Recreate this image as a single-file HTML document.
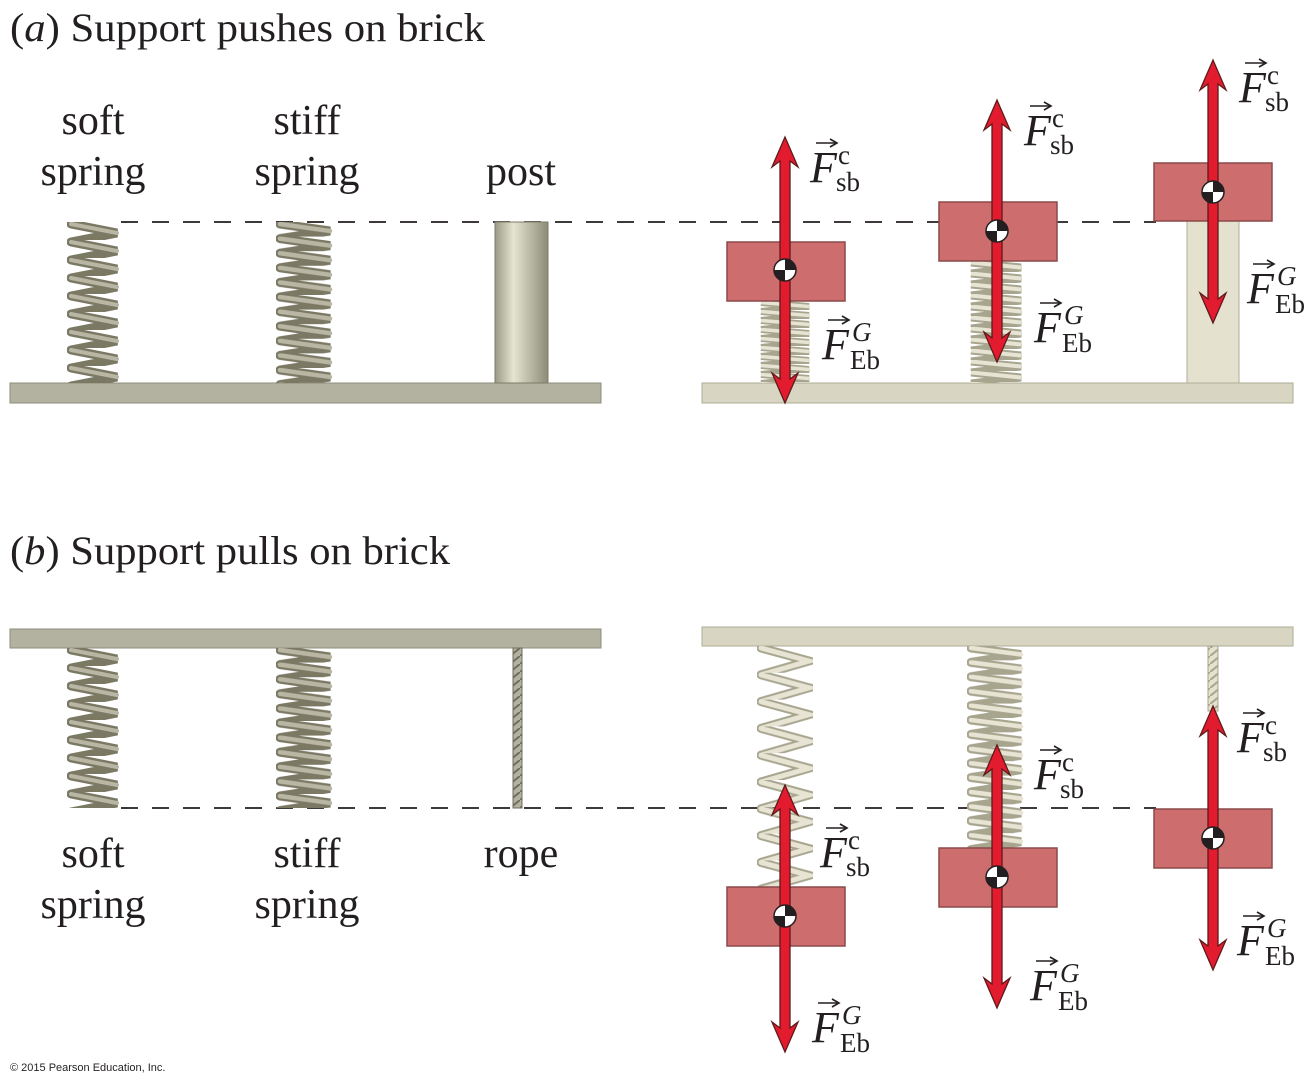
<!DOCTYPE html>
<html><head><meta charset="utf-8"><style>
html,body{margin:0;padding:0;background:#fff;}
svg{display:block;}
text{font-family:"Liberation Serif",serif;fill:#231f20;}
.lb{font-size:42px;}
.F{font-size:44px;font-style:italic;}
.s{font-size:27px;}
.sg{font-size:27px;font-style:italic;}
</style></head><body>
<svg width="1313" height="1088" viewBox="0 0 1313 1088" xmlns="http://www.w3.org/2000/svg">
<defs>
<linearGradient id="post" x1="0" x2="1">
<stop offset="0" stop-color="#9a9a86"/><stop offset="0.35" stop-color="#e4e4d2"/><stop offset="1" stop-color="#8c8b77"/>
</linearGradient>
<pattern id="pS" patternUnits="userSpaceOnUse" x="67" y="222" width="54" height="18"><path d="M4,2 L50,11 L4,20" fill="none" stroke="#7b7964" stroke-width="9" stroke-linecap="round"/><path d="M4,2 L50,11" fill="none" stroke="#b9b7a4" stroke-width="4" stroke-linecap="round"/></pattern>
<pattern id="pT" patternUnits="userSpaceOnUse" x="276" y="222" width="58" height="14.6"><path d="M4,2 L54,9 L4,16.6" fill="none" stroke="#7b7964" stroke-width="9" stroke-linecap="round"/><path d="M4,2 L54,9" fill="none" stroke="#b9b7a4" stroke-width="4.5" stroke-linecap="round"/></pattern>
<pattern id="pS2" patternUnits="userSpaceOnUse" x="67" y="648" width="54" height="18"><path d="M4,2 L50,11 L4,20" fill="none" stroke="#7b7964" stroke-width="9" stroke-linecap="round"/><path d="M4,2 L50,11" fill="none" stroke="#b9b7a4" stroke-width="4" stroke-linecap="round"/></pattern>
<pattern id="pT2" patternUnits="userSpaceOnUse" x="276" y="648" width="58" height="14.6"><path d="M4,2 L54,9 L4,16.6" fill="none" stroke="#7b7964" stroke-width="9" stroke-linecap="round"/><path d="M4,2 L54,9" fill="none" stroke="#b9b7a4" stroke-width="4.5" stroke-linecap="round"/></pattern>
<pattern id="r1" patternUnits="userSpaceOnUse" x="757" y="301" width="56" height="9"><path d="M4,1.5 L52,5.5 L4,10.5" fill="none" stroke="#a8a58f" stroke-width="7"/><path d="M4,1.5 L52,5.5" fill="none" stroke="#e7e4d3" stroke-width="3.5"/></pattern>
<pattern id="r2" patternUnits="userSpaceOnUse" x="967" y="261" width="58" height="11"><path d="M4,1.5 L54,6.5 L4,12.5" fill="none" stroke="#a8a58f" stroke-width="8"/><path d="M4,1.5 L54,6.5" fill="none" stroke="#e7e4d3" stroke-width="4"/></pattern>
<pattern id="r3" patternUnits="userSpaceOnUse" x="757" y="646" width="56" height="26.8"><path d="M4,2 L52,15 L4,28.8" fill="none" stroke="#a8a58f" stroke-width="9" stroke-linecap="round"/><path d="M4,2 L52,15 L4,28.8" fill="none" stroke="#e7e4d3" stroke-width="5" stroke-linecap="round"/></pattern>
<pattern id="r4" patternUnits="userSpaceOnUse" x="967" y="646" width="58" height="14.4"><path d="M4,2 L54,8.5 L4,16.4" fill="none" stroke="#a8a58f" stroke-width="9" stroke-linecap="round"/><path d="M4,2 L54,8.5" fill="none" stroke="#e7e4d3" stroke-width="4.5" stroke-linecap="round"/></pattern>
<pattern id="rope" patternUnits="userSpaceOnUse" width="10" height="8"><path d="M0,8 L10,0" stroke="#6f6d5c" stroke-width="2"/></pattern>
<pattern id="rope2" patternUnits="userSpaceOnUse" width="10" height="8"><path d="M0,8 L10,0" stroke="#a8a58f" stroke-width="2"/></pattern>
<g id="dot"><circle r="11" fill="#fff" stroke="#231f20" stroke-width="1.5"/><path d="M0,0 L0,-11 A11,11 0 0 1 11,0 Z M0,0 L0,11 A11,11 0 0 1 -11,0 Z" fill="#231f20"/></g>
<g id="vec"><line x1="0" y1="0" x2="20" y2="0" stroke="#231f20" stroke-width="1.6"/><path d="M14,-4 L21,0 L14,4" fill="none" stroke="#231f20" stroke-width="1.6"/></g>
</defs>

<text x="10" y="41" style="font-size:40px" textLength="475" lengthAdjust="spacingAndGlyphs">(<tspan font-style="italic">a</tspan>) Support pushes on brick</text>
<text x="10" y="564" style="font-size:40px" textLength="440" lengthAdjust="spacingAndGlyphs">(<tspan font-style="italic">b</tspan>) Support pulls on brick</text>

<g class="lb" text-anchor="middle">
<text x="93" y="134">soft</text><text x="93" y="185">spring</text>
<text x="307" y="134">stiff</text><text x="307" y="185">spring</text>
<text x="521" y="185">post</text>
<text x="93" y="867">soft</text><text x="93" y="918">spring</text>
<text x="307" y="867">stiff</text><text x="307" y="918">spring</text>
<text x="521" y="867">rope</text>
</g>

<line x1="121" y1="222" x2="1156" y2="222" stroke="#231f20" stroke-width="1.8" stroke-dasharray="17,14"/>
<line x1="121" y1="808" x2="1156" y2="808" stroke="#231f20" stroke-width="1.8" stroke-dasharray="17,14"/>

<rect x="10" y="383" width="591" height="20" fill="#b3b2a1" stroke="#8f8e7c" stroke-width="1"/>
<rect x="67" y="222" width="54" height="161" fill="url(#pS)"/>
<rect x="276" y="222" width="58" height="161" fill="url(#pT)"/>
<rect x="495" y="222" width="53" height="161" fill="url(#post)" stroke="#7d7c69" stroke-width="1"/>

<rect x="702" y="383" width="591" height="20" fill="#d8d6c2" stroke="#aeac96" stroke-width="1"/>
<rect x="757" y="301" width="56" height="82" fill="url(#r1)"/>
<rect x="967" y="261" width="58" height="122" fill="url(#r2)"/>
<rect x="1187" y="221" width="52" height="162" fill="#e4e2cf" stroke="#b0ae98" stroke-width="1"/>
<rect x="727" y="242" width="118" height="59" fill="#cd6d6d" stroke="#8c4a4a" stroke-width="1.5"/>
<rect x="939" y="202" width="118" height="59" fill="#cd6d6d" stroke="#8c4a4a" stroke-width="1.5"/>
<rect x="1154" y="163" width="118" height="58" fill="#cd6d6d" stroke="#8c4a4a" stroke-width="1.5"/>

<rect x="10" y="629" width="591" height="19" fill="#b3b2a1" stroke="#8f8e7c" stroke-width="1"/>
<rect x="67" y="648" width="54" height="160" fill="url(#pS2)"/>
<rect x="276" y="648" width="58" height="160" fill="url(#pT2)"/>
<rect x="513" y="648" width="9" height="160" fill="#b3b2a1"/>
<rect x="513" y="648" width="9" height="160" fill="url(#rope)" stroke="#6f6d5c" stroke-width="1"/>

<rect x="702" y="627" width="591" height="19" fill="#d8d6c2" stroke="#aeac96" stroke-width="1"/>
<rect x="757" y="646" width="56" height="241" fill="url(#r3)"/>
<rect x="967" y="646" width="58" height="202" fill="url(#r4)"/>
<rect x="1208" y="646" width="10" height="65" fill="#e4e2cf"/>
<rect x="1208" y="646" width="10" height="65" fill="url(#rope2)" stroke="#a8a58f" stroke-width="1"/>
<rect x="727" y="887" width="118" height="59" fill="#cd6d6d" stroke="#8c4a4a" stroke-width="1.5"/>
<rect x="939" y="848" width="118" height="59" fill="#cd6d6d" stroke="#8c4a4a" stroke-width="1.5"/>
<rect x="1154" y="809" width="118" height="59" fill="#cd6d6d" stroke="#8c4a4a" stroke-width="1.5"/>

<g fill="#e31b2f" stroke="#5e1a1a" stroke-width="1.3">
<polygon points="785,137 798,167 790,161 790,379 798,373 785,403 772,373 780,379 780,161 772,167"/>
<polygon points="997,100 1010,130 1002,124 1002,338 1010,332 997,362 984,332 992,338 992,124 984,130"/>
<polygon points="1213,60 1226,90 1218,84 1218,299 1226,293 1213,323 1200,293 1208,299 1208,84 1200,90"/>
<polygon points="785,785 798,815 790,809 790,1028 798,1022 785,1052 772,1022 780,1028 780,809 772,815"/>
<polygon points="997,745 1010,775 1002,769 1002,984 1010,978 997,1008 984,978 992,984 992,769 984,775"/>
<polygon points="1213,706 1226,736 1218,730 1218,946 1226,940 1213,970 1200,940 1208,946 1208,730 1200,736"/>
</g>
<use href="#dot" x="785" y="270"/><use href="#dot" x="997" y="231"/><use href="#dot" x="1213" y="192"/>
<use href="#dot" x="785" y="916"/><use href="#dot" x="997" y="877"/><use href="#dot" x="1213" y="838"/>

<g>
<text x="810" y="182" class="F">F</text><use href="#vec" x="816" y="143"/><text x="838" y="164" class="s">c</text><text x="836" y="191" class="s">sb</text>
<text x="822" y="359" class="F">F</text><use href="#vec" x="828" y="320"/><text x="852" y="341" class="sg">G</text><text x="850" y="369" class="s">Eb</text>
<text x="1024" y="145" class="F">F</text><use href="#vec" x="1030" y="106"/><text x="1052" y="127" class="s">c</text><text x="1050" y="154" class="s">sb</text>
<text x="1034" y="342" class="F">F</text><use href="#vec" x="1040" y="303"/><text x="1064" y="324" class="sg">G</text><text x="1062" y="352" class="s">Eb</text>
<text x="1239" y="102" class="F">F</text><use href="#vec" x="1245" y="63"/><text x="1267" y="84" class="s">c</text><text x="1265" y="111" class="s">sb</text>
<text x="1247" y="303" class="F">F</text><use href="#vec" x="1253" y="264"/><text x="1277" y="285" class="sg">G</text><text x="1275" y="313" class="s">Eb</text>
<text x="820" y="867" class="F">F</text><use href="#vec" x="826" y="828"/><text x="848" y="849" class="s">c</text><text x="846" y="876" class="s">sb</text>
<text x="812" y="1042" class="F">F</text><use href="#vec" x="818" y="1003"/><text x="842" y="1024" class="sg">G</text><text x="840" y="1052" class="s">Eb</text>
<text x="1034" y="789" class="F">F</text><use href="#vec" x="1040" y="750"/><text x="1062" y="771" class="s">c</text><text x="1060" y="798" class="s">sb</text>
<text x="1030" y="1000" class="F">F</text><use href="#vec" x="1036" y="961"/><text x="1060" y="982" class="sg">G</text><text x="1058" y="1010" class="s">Eb</text>
<text x="1237" y="752" class="F">F</text><use href="#vec" x="1243" y="713"/><text x="1265" y="734" class="s">c</text><text x="1263" y="761" class="s">sb</text>
<text x="1237" y="955" class="F">F</text><use href="#vec" x="1243" y="916"/><text x="1267" y="937" class="sg">G</text><text x="1265" y="965" class="s">Eb</text>
</g>

<text x="10" y="1071" style="font-family:'Liberation Sans',sans-serif;font-size:11px;fill:#231f20">© 2015 Pearson Education, Inc.</text>
</svg>
</body></html>
